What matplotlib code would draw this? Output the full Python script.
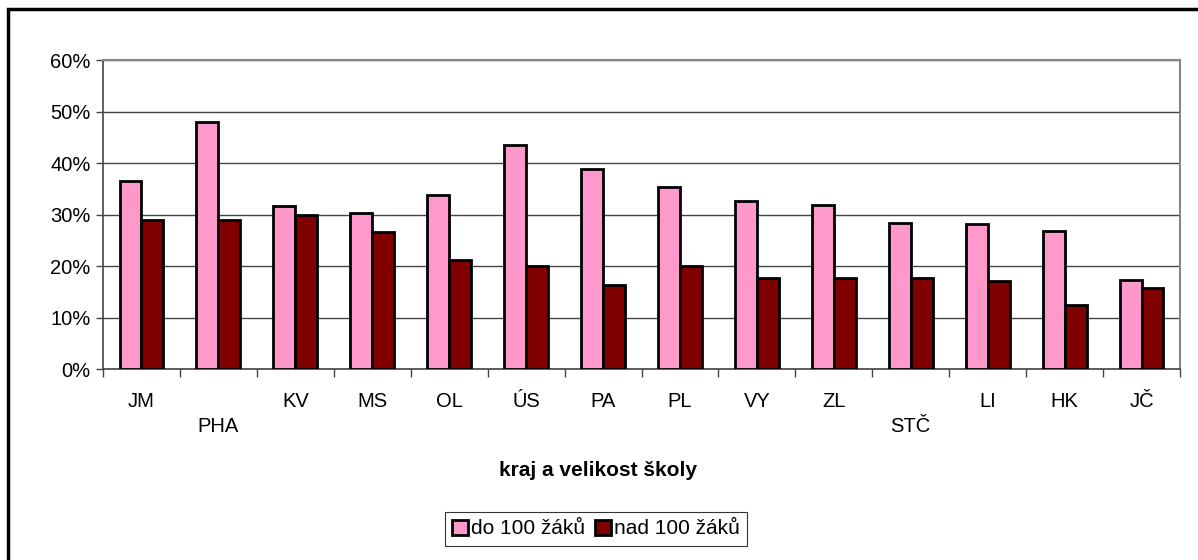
import matplotlib
matplotlib.use("Agg")
import matplotlib.pyplot as plt
import matplotlib.patches as mpatches
import numpy as np

plt.rcParams['font.family'] = ['Liberation Sans', 'DejaVu Sans']

categories = ["JM", "PHA", "KV", "MS", "OL", "ÚS", "PA", "PL", "VY", "ZL", "STČ", "LI", "HK", "JČ"]
do100 = [36.5, 48.0, 31.6, 30.4, 33.8, 43.6, 38.9, 35.3, 32.7, 31.9, 28.4, 28.2, 26.9, 17.4]
nad100 = [28.9, 28.9, 30.0, 26.6, 21.2, 20.1, 16.3, 20.1, 17.7, 17.7, 17.7, 17.1, 12.5, 15.8]
series_names = ["do 100 žáků", "nad 100 žáků"]
xlabel = "kraj a velikost školy"
yticks = [0, 10, 20, 30, 40, 50, 60]

fig = plt.figure(figsize=(11.98, 5.6), dpi=100)
W, H = 1198, 560
ax = fig.add_axes([103 / W, 1 - 369.3 / H, (1180 - 103) / W, (369.3 - 60) / H])

n = len(categories)
x = np.arange(n)
bw = 0.285
ax.bar(x - bw / 2, do100, bw, color="#FF99CC", edgecolor="black", linewidth=2.0, label=series_names[0], zorder=3)
ax.bar(x + bw / 2, nad100, bw, color="#800000", edgecolor="black", linewidth=2.0, label=series_names[1], zorder=3)

ax.set_xlim(-0.5, n - 0.5)
ax.set_ylim(0, 60)
ax.set_yticks(yticks)
ax.set_yticklabels([f"{v}%" for v in yticks], fontsize=14.5)
ax.yaxis.grid(True, color="#444444", linewidth=1.0, zorder=0)
ax.tick_params(axis="y", length=5, width=1, color="#444444", pad=4)

# category boundary ticks (major), labels at centers (minor)
ax.set_xticks(np.arange(-0.5, n, 1.0))
ax.set_xticklabels([])
ax.tick_params(axis="x", which="major", length=6, width=1, color="#444444", direction="out")
ax.set_xticks(x, minor=True)
labels = [("\n" + c) if c in ("PHA", "STČ") else c for c in categories]
ax.set_xticklabels(labels, minor=True, fontsize=14.5, linespacing=1.45)
ax.tick_params(axis="x", which="minor", length=0, pad=16)

for s in ["top", "right"]:
    ax.spines[s].set_color("#888888")
    ax.spines[s].set_linewidth(1.5)
ax.spines["left"].set_color("#444444")
ax.spines["bottom"].set_color("#444444")
ax.spines["left"].set_linewidth(1.2)
ax.spines["bottom"].set_linewidth(1.2)

fig.text(598 / W, 1 - 470 / H, xlabel, ha="center", va="center", fontsize=15, fontweight="bold")

leg = fig.legend(loc="center", bbox_to_anchor=(596 / W, 1 - 529 / H), ncol=2, fontsize=15,
                 frameon=True, fancybox=False, edgecolor="black", handlelength=0.75, handleheight=0.75,
                 handletextpad=0.15, columnspacing=0.5, borderpad=0.35, borderaxespad=0)
leg.get_frame().set_linewidth(0.8)
for h in leg.legend_handles:
    h.set_linewidth(2.0)

# outer chart border (cropped on right and bottom)
rect = mpatches.Rectangle((8 / W, -0.1), 1.2, 1.1 - 9 / H, transform=fig.transFigure,
                          fill=False, edgecolor="black", linewidth=2.5)
fig.patches.append(rect)

fig.savefig("out.png", dpi=100)
